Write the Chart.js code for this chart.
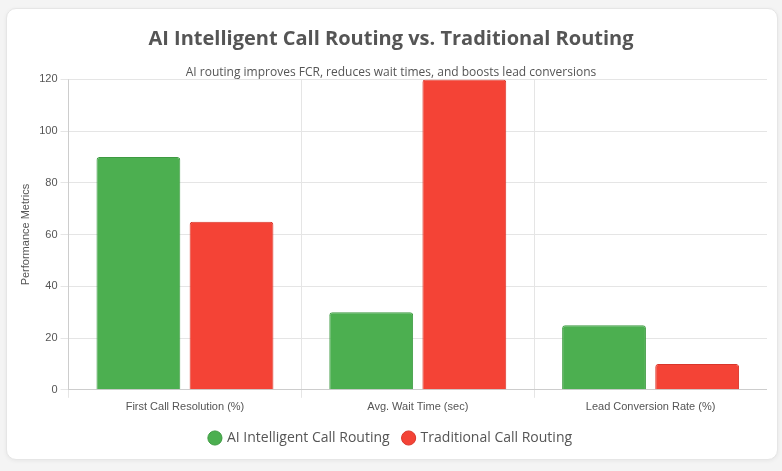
<!DOCTYPE html>
<html><head><meta charset="utf-8">
<script src="https://cdn.jsdelivr.net/npm/chart.js@4"></script>
<style>
html,body{margin:0;padding:0;background:#f4f4f4;font-family:"Segoe UI","Open Sans",sans-serif;}
.card{position:absolute;left:6px;top:8px;width:770px;height:450px;background:#fff;border:1px solid #e6e6e6;border-radius:10px;box-shadow:0 1px 4px rgba(0,0,0,0.06);}
.wrap{position:absolute;left:8px;top:14px;width:752px;height:432px;}
</style></head><body>
<div class="card"><div class="wrap"><canvas id="c"></canvas></div></div>
<script>
const categories=["First Call Resolution (%)","Avg. Wait Time (sec)","Lead Conversion Rate (%)"];
const aiValues=[90,30,25];
const tradValues=[65,120,10];
new Chart(document.getElementById('c'),{
type:'bar',
data:{labels:categories,datasets:[
{label:"AI Intelligent Call Routing",data:aiValues,backgroundColor:'#4CAF50',borderColor:'#3d9a41',borderWidth:1,borderRadius:3},
{label:"Traditional Call Routing",data:tradValues,backgroundColor:'#F44336',borderColor:'#d9362b',borderWidth:1,borderRadius:3}]},
options:{responsive:true,maintainAspectRatio:false,animation:false,
layout:{padding:{left:0,right:0,top:0,bottom:0}},
plugins:{
title:{display:true,text:"AI Intelligent Call Routing vs. Traditional Routing",color:'#555',font:{size:20,weight:'bold',family:"'Open Sans',sans-serif"},padding:{top:4,bottom:14}},
subtitle:{display:true,text:"AI routing improves FCR, reduces wait times, and boosts lead conversions",color:'#555',font:{size:12,family:"'Open Sans',sans-serif"},padding:{bottom:0}},
legend:{position:'bottom',labels:{usePointStyle:true,pointStyle:'circle',boxWidth:10,boxHeight:10,color:'#555',font:{size:14,family:"'Open Sans',sans-serif"},padding:14}}},
scales:{
x:{grid:{color:'#e5e5e5'},ticks:{color:'#555',font:{size:11}}},
y:{min:0,max:120,ticks:{stepSize:20,color:'#555',font:{size:11}},grid:{color:'#e5e5e5'},
title:{display:true,text:"Performance Metrics",color:'#555',font:{size:11}}}}}});
</script></body></html>
